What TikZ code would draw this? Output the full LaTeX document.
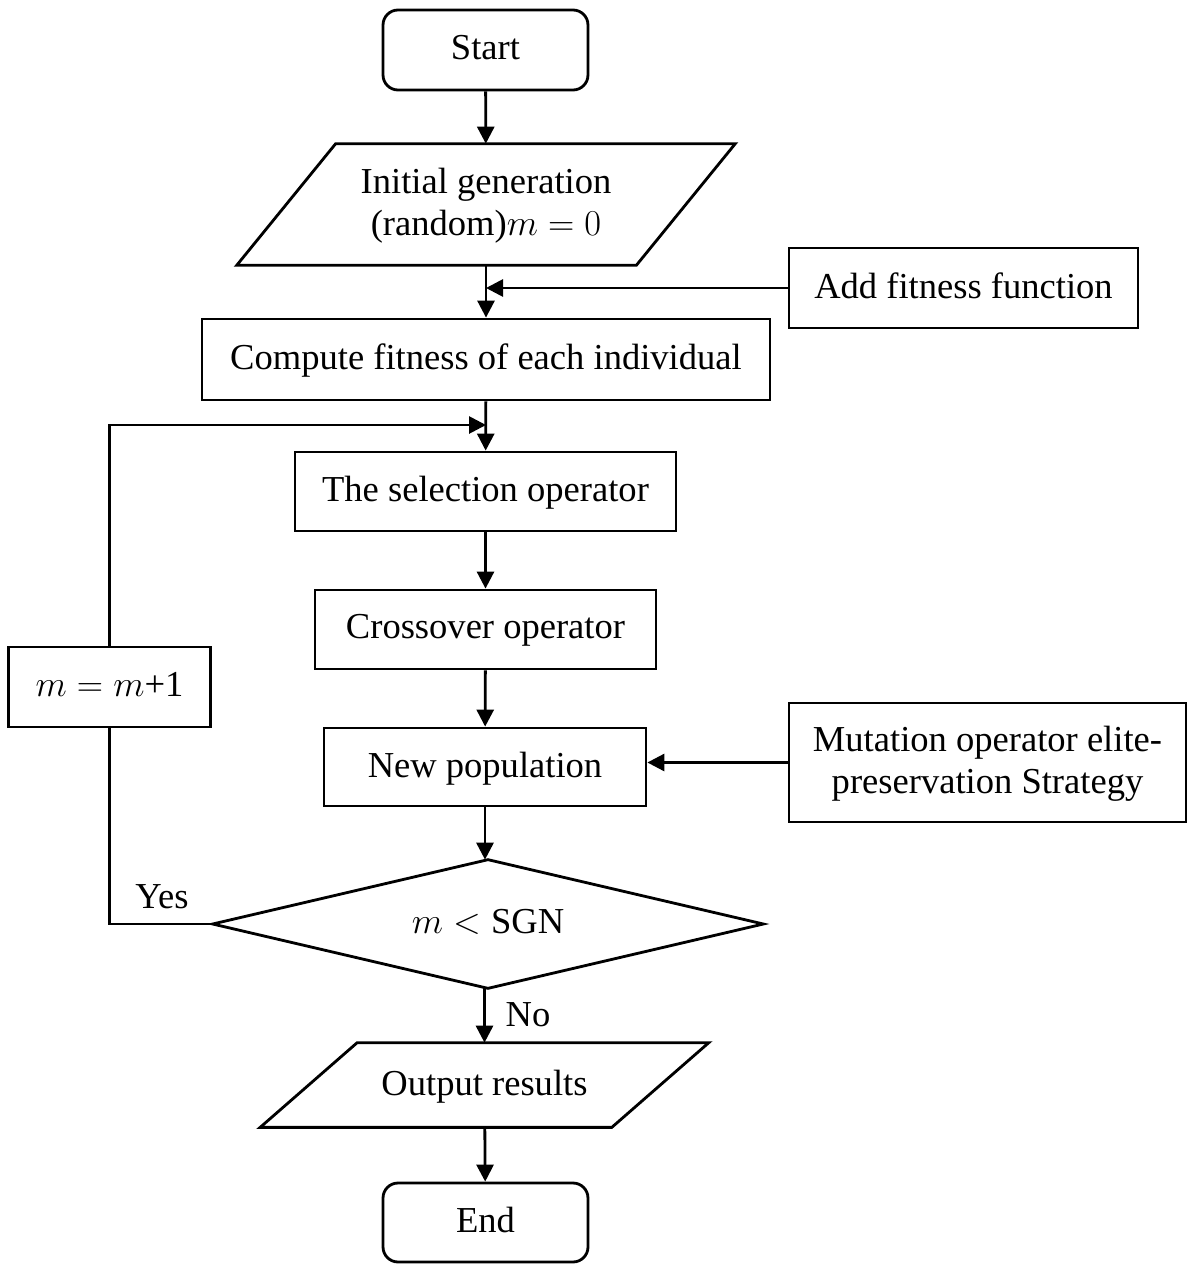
\documentclass[tikz,border=0pt]{standalone}
\usepackage{fontspec}
\setmainfont{Liberation Serif}
\usetikzlibrary{arrows.meta,calc}
\begin{document}
\begin{tikzpicture}[x=0.02cm,y=-0.02cm,
  font=\fontsize{20.8}{24}\selectfont,
  flow/.style={draw, line width=1.6pt},
  arr/.style={flow, -{Triangle[length=0.34cm,width=0.34cm]}},
  stepbox/.style={flow, rectangle, inner sep=0pt, align=center, text depth=0.3em},
  term/.style={stepbox, rounded corners=0.3cm},
  io/.style={rectangle, inner sep=0pt, align=center, text depth=0.3em}]
\useasboundingbox (0,0) rectangle (1193,1264);

% main column
\node[term, minimum width=4.1cm, minimum height=1.6cm] (start) at (485.5,50) {Start};
\node[io, minimum width=7.98cm, minimum height=2.42cm] (init) at (486,204.5)
  {Initial generation\\(random)$m = 0$};
\node[stepbox, minimum width=11.36cm, minimum height=1.62cm] (fit) at (486,359.5)
  {Compute fitness of each individual};
\node[stepbox, minimum width=7.62cm, minimum height=1.58cm] (sel) at (485.5,491.5)
  {The selection operator};
\node[stepbox, minimum width=6.82cm, minimum height=1.58cm] (cross) at (485.5,629.5)
  {Crossover operator};
\node[stepbox, minimum width=6.44cm, minimum height=1.56cm] (newpop) at (485,767)
  {New population};
\node[io, minimum width=11cm, minimum height=2.56cm] (cond) at (488,924)
  {$m < \mathrm{SGN}$};
\node[io, minimum width=7.02cm, minimum height=1.68cm] (out) at (484.5,1085)
  {Output results};
\node[term, minimum width=4.1cm, minimum height=1.58cm] (end) at (485.5,1222.5) {End};

% side boxes
\node[stepbox, minimum width=6.98cm, minimum height=1.6cm] (addfit) at (963.5,288)
  {Add fitness function};
\node[stepbox, minimum width=7.94cm, minimum height=2.38cm] (mut) at (987.5,762.5)
  {Mutation operator elite-\\preservation Strategy};
\node[stepbox, minimum width=4.04cm, minimum height=1.6cm] (upd) at (109.5,687)
  {$m = m$+1};

% input/output parallelograms and the decision diamond
\draw[flow, line join=miter]
  ($(init.north west)+(49.5,0)$) -- ($(init.north east)+(49.5,0)$) --
  ($(init.south east)+(-49.5,0)$) -- ($(init.south west)+(-49.5,0)$) -- cycle;
\draw[flow, line join=miter]
  ($(out.north west)+(48.5,0)$) -- ($(out.north east)+(48.5,0)$) --
  ($(out.south east)+(-48.5,0)$) -- ($(out.south west)+(-48.5,0)$) -- cycle;
\draw[flow, line join=miter]
  (cond.north) -- (cond.east) -- (cond.south) -- (cond.west) -- cycle;

% connectors
\coordinate (loopin) at (486,425);
\draw[arr] (start) -- (init);
\draw[arr] (init) -- (fit);
\draw[arr] (addfit.west) -- (addfit.west -| init.south);
\draw[arr] (fit) -- (sel);
\draw[arr] (sel) -- (cross);
\draw[arr] (cross) -- (newpop);
\draw[arr] (mut.west) -- (mut.west -| newpop.east);
\draw[arr] (newpop.south) -- (newpop.south |- cond.north);
\draw[arr] (cond.south -| out.north) -- (out.north);
\draw[arr] (out) -- (end);
\draw[flow] (cond.west) -- (cond.west -| upd.south) -- (upd.south);
\draw[arr] (upd.north) |- (loopin);

% branch labels
\node at (162,897) {Yes};
\node at (528,1015) {No};
\end{tikzpicture}
\end{document}
